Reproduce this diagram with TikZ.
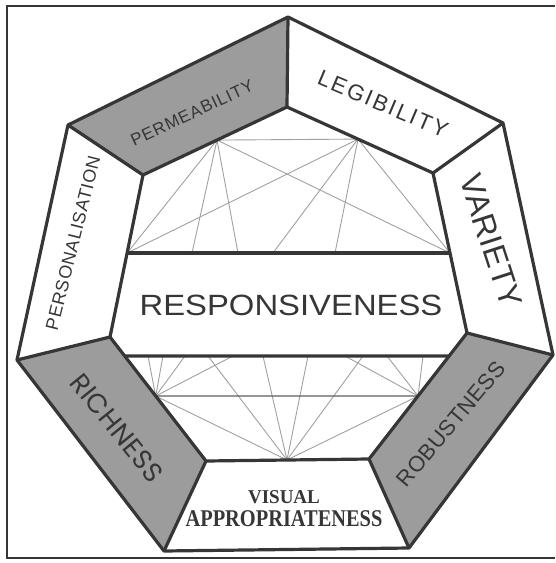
\documentclass[tikz,border=0pt]{standalone}
\usepackage{fontspec}
\setmainfont{Liberation Sans}
\newfontfamily\visfont{Liberation Serif}
\newfontfamily\geofont{Poppins}
\definecolor{ink}{HTML}{363636}
\definecolor{seg}{HTML}{9C9C9C}
\definecolor{web}{HTML}{A0A0A0}
\tikzset{
  edge/.style={draw=ink, line width=3.2pt, line join=round},
  segfill/.style={fill=seg},
  webline/.style={draw=web, line width=0.9pt},
  midline/.style={draw=ink!80, line width=1.3pt},
  framel/.style={draw=ink, line width=2pt},
  lbl/.style={inner sep=0pt, text=ink},
}
\newcommand{\fs}[2]{\fontsize{#1}{#1}\selectfont\addfontfeature{LetterSpace=#2}}
\begin{document}
\begin{tikzpicture}[x=1pt,y=-1pt]
\useasboundingbox (0,0) rectangle (555,563);
% outer heptagon
\coordinate (O1) at (288,17);
\coordinate (O2) at (503,123);
\coordinate (O3) at (553,355);
\coordinate (O4) at (409,548);
\coordinate (O5) at (164,551);
\coordinate (O6) at (17,360);
\coordinate (O7) at (68,125);
% inner heptagon
\coordinate (I1) at (287,107);
\coordinate (I2) at (433,173);
\coordinate (I3) at (467,333);
\coordinate (I4) at (369,459);
\coordinate (I5) at (206,461);
\coordinate (I6) at (110,337);
\coordinate (I7) at (143,175);
% helper lines
\coordinate (ha) at (0,253);   \coordinate (hb) at (555,253);
\coordinate (la) at (0,356);   \coordinate (lb) at (555,356);
\coordinate (ma) at (0,396);   \coordinate (mb) at (555,396);
\coordinate (va) at (217,0);   \coordinate (vb) at (217,563);
\coordinate (wa) at (358,0);   \coordinate (wb) at (358,563);
\coordinate (ea) at (287,0);   \coordinate (eb) at (287,563);
\coordinate (UL) at (intersection of I7--I6 and ha--hb);
\coordinate (UR) at (intersection of I2--I3 and ha--hb);
\coordinate (LL) at (intersection of I6--I5 and la--lb);
\coordinate (LR) at (intersection of I3--I4 and la--lb);
\coordinate (C) at (intersection of I6--I5 and ma--mb);
\coordinate (D) at (intersection of I3--I4 and ma--mb);
\coordinate (A) at (intersection of I7--I1 and va--vb);
\coordinate (B) at (intersection of I1--I2 and wa--wb);
\coordinate (E) at (intersection of I5--I4 and ea--eb);
% frame
\draw[framel] (555,6) -- (7,6) -- (7,558) -- (555,558);
% segments
\fill[segfill] (O7)--(O1)--(I1)--(I7)--cycle;
\fill[segfill] (O3)--(O4)--(I4)--(I3)--cycle;
\fill[segfill] (O5)--(O6)--(I6)--(I5)--cycle;
% upper web
\draw[webline] (A)--(B);
\draw[webline] (A)--(UL);
\draw[webline] (A)--(UR);
\draw[webline] (A)--(192,253);
\draw[webline] (A)--(238,253);
\draw[webline] (B)--(UL);
\draw[webline] (B)--(UR);
\draw[webline] (B)--(273,253);
\draw[webline] (B)--(335,253);
% lower web
\draw[webline] (C)--(E);
\draw[webline] (D)--(E);
\foreach \x in {148,163,185,233} \draw[webline] (C)--(\x,356);
\foreach \x in {208,263,308,363} \draw[webline] (E)--(\x,356);
\foreach \x in {345,387,423} \draw[webline] (D)--(\x,356);
\draw[midline] (C)--(D);
% thick lines
\draw[edge] (O1)--(O2)--(O3)--(O4)--(O5)--(O6)--(O7)--cycle;
\draw[edge] (I1)--(I2)--(I3)--(I4)--(I5)--(I6)--(I7)--cycle;
\foreach \i in {1,...,7} \draw[edge] (O\i)--(I\i);
\draw[edge] (UL)--(UR);
\draw[edge] (LL)--(LR);
% labels
\node[lbl, rotate=25] (perm) at (192,113) {\fs{17}{5}PERMEABILITY};
\node[lbl, rotate=-23] (legi) at (383,104) {\fs{22.3}{10}LEGIBILITY};
\node[lbl, rotate=-72] (vari) at (491,241) {\fs{32}{2}VARIETY};
\node[lbl, rotate=50] (robu) at (451,424) {\fs{22}{2}ROBUSTNESS};
\node[lbl, rotate=-51] (rich) at (117,428) {\geofont\fs{27}{2}RICHNESS};
\node[lbl, rotate=76] (pers) at (73,243) {\fs{18}{4}PERSONALISATION};
\node[lbl, xscale=1.12] (resp) at (291,305) {\fs{29.3}{0}RESPONSIVENESS};
\node[lbl, xscale=0.97] (vis1) at (284,497) {\visfont\bfseries\fs{19.6}{0}VISUAL};
\node[lbl, xscale=0.85] (vis2) at (284,519) {\visfont\bfseries\fs{24}{0}APPROPRIATENESS};
\end{tikzpicture}
\end{document}
